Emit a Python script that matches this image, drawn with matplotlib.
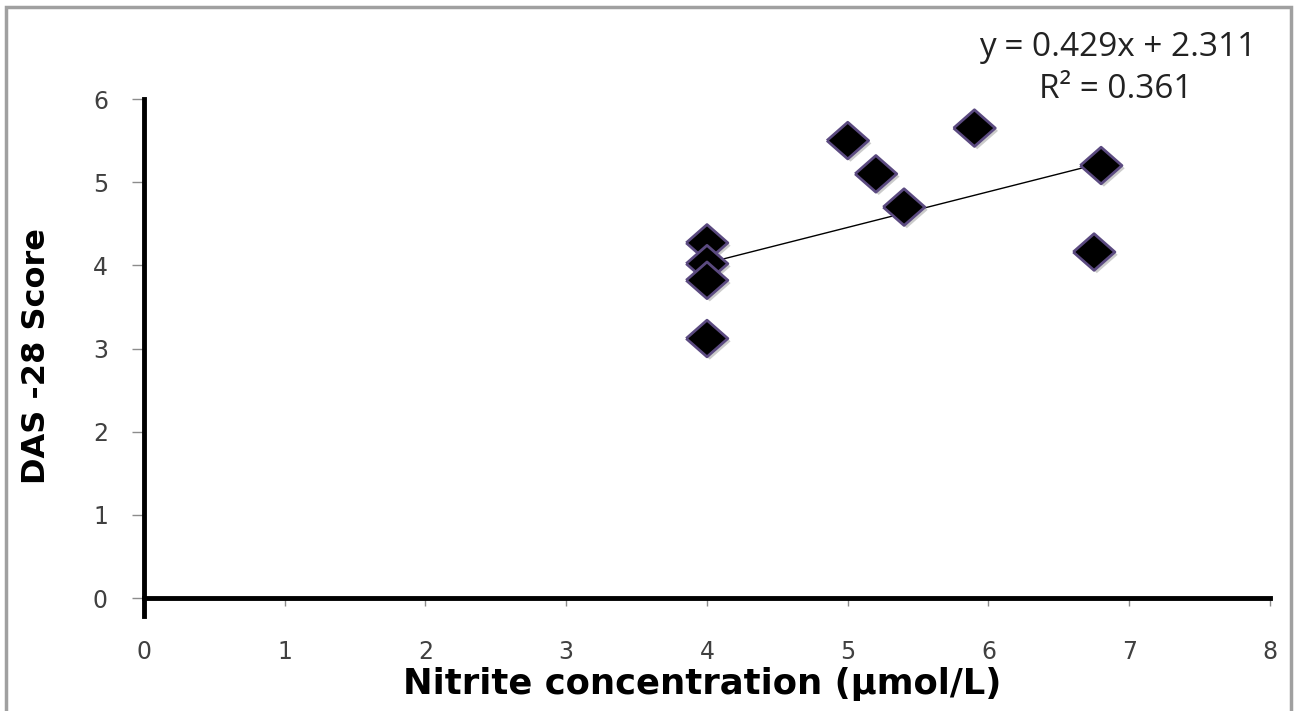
import matplotlib
matplotlib.use("Agg")
import matplotlib.pyplot as plt
import matplotlib.patheffects as pe
from matplotlib.patches import Rectangle
import numpy as np

# Data
nitrite = [4.0, 4.0, 4.0, 4.0, 5.0, 5.2, 5.4, 5.9, 6.8, 6.75]
das28 = [4.27, 4.02, 3.82, 3.12, 5.50, 5.10, 4.70, 5.65, 5.20, 4.16]
trend_coef = [0.429, 2.311]  # slope, intercept
equation_text = ["y = 0.429x + 2.311", "R² = 0.361"]
x_ticks = [0, 1, 2, 3, 4, 5, 6, 7, 8]
y_ticks = [0, 1, 2, 3, 4, 5, 6]

W, H = 1297, 711
fig = plt.figure(figsize=(W / 100, H / 100), dpi=100)
fig.patch.set_facecolor("white")

# outer gray frame
fig.add_artist(Rectangle((5.5 / W, -0.02), (1291 - 5.5) / W, 1.02 - 7 / H,
                         transform=fig.transFigure, fill=False,
                         edgecolor="#a0a0a0", linewidth=2.5))

ax = fig.add_axes([144 / W, 1 - 598 / H, (1270 - 144) / W, (598 - 99) / H])
ax.set_xlim(0, 8)
ax.set_ylim(0, 6)

for s in ["top", "right"]:
    ax.spines[s].set_visible(False)
for s in ["left", "bottom"]:
    ax.spines[s].set_linewidth(3.5)
    ax.spines[s].set_color("black")
ax.spines["left"].set_bounds(-0.22, 6)

ax.set_xticks(x_ticks)
ax.set_yticks(y_ticks)
ax.tick_params(axis="both", direction="out", color="#8c8c8c", width=1.0,
               labelsize=17, labelcolor="#404040")
ax.tick_params(axis="x", length=6, pad=24)
ax.tick_params(axis="y", length=9, pad=17)

# trend line
xs = np.array([min(nitrite), max(nitrite)])
ax.plot(xs, trend_coef[0] * xs + trend_coef[1], color="black", linewidth=1.0, zorder=2)

# diamond marker (slightly flattened)
diamond = [(-1, 0), (0, 0.88), (1, 0), (0, -0.88), (-1, 0)]
ax.plot(nitrite, das28, linestyle="none", marker=diamond, markersize=30,
        markerfacecolor="black", markeredgecolor="#5b4a80", markeredgewidth=2.0,
        zorder=3, clip_on=False,
        path_effects=[pe.SimplePatchShadow(offset=(2, -2), shadow_rgbFace="#999999", alpha=0.5),
                      pe.Normal()])

ax.set_ylabel("DAS -28 Score", fontsize=23, fontweight="bold",
              family=["DejaVu Sans"])
ax.yaxis.set_label_coords((52 - 144) / (1270 - 144), (598 - 356) / (598 - 99))

ax.set_xlabel("Nitrite concentration (µmol/L)", fontsize=25.5, fontweight="bold",
              family=["DejaVu Sans"], va="baseline")
ax.xaxis.set_label_coords((702 - 144) / (1270 - 144), -(694 - 598) / (598 - 99))

fig.text(1118 / W, 1 - 48 / H, equation_text[0], ha="center", va="center",
         fontsize=24, family=["Open Sans", "DejaVu Sans"], color="#222222")
fig.text(1116 / W, 1 - 90 / H, equation_text[1], ha="center", va="center",
         fontsize=24, family=["Open Sans", "DejaVu Sans"], color="#222222")

fig.savefig("out.png", dpi=100)
